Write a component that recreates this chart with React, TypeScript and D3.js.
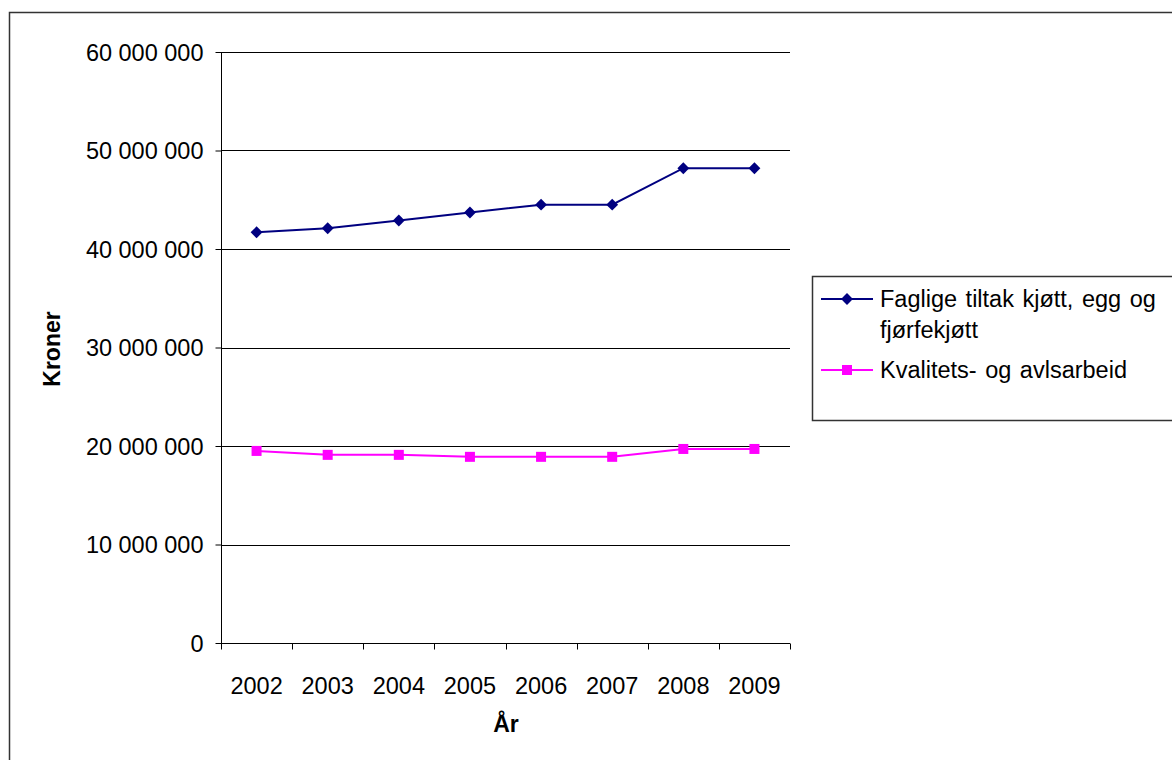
import React, { useEffect, useRef } from 'react';
import * as d3 from 'd3';

const years = ['2002', '2003', '2004', '2005', '2006', '2007', '2008', '2009'];
const faglige = [41700000, 42100000, 42900000, 43700000, 44500000, 44500000, 48200000, 48200000];
const kvalitet = [19500000, 19100000, 19100000, 18900000, 18900000, 18900000, 19700000, 19700000];
const yTicks = [0, 10000000, 20000000, 30000000, 40000000, 50000000, 60000000];
const seriesNames = ['Faglige tiltak kjøtt, egg og', 'fjørfekjøtt', 'Kvalitets- og avlsarbeid'];

const font = '"Liberation Sans", Arial, sans-serif';
const fs = 23.5;

const App: React.FC = () => {
  const svgRef = useRef<SVGSVGElement>(null);

  useEffect(() => {
    if (!svgRef.current) return;
    const svg = d3.select(svgRef.current);
    svg.selectAll('*').remove();

    // outer frame (cut off at right and bottom)
    svg.append('rect')
      .attr('x', 9.5).attr('y', 12.5)
      .attr('width', 1200).attr('height', 800)
      .attr('fill', 'white')
      .attr('stroke', '#333').attr('stroke-width', 1.5);

    const left = 221, right = 790, top = 52, bottom = 643;

    const x = d3.scaleBand().domain(years).range([left, right]);
    const y = d3.scaleLinear().domain([0, 60000000]).range([bottom, top]);

    const fmt = (v: number) => d3.format(',')(v).replace(/,/g, ' ');

    // gridlines
    svg.append('g')
      .selectAll('line')
      .data(yTicks.filter(d => d > 0))
      .enter().append('line')
      .attr('x1', left).attr('x2', right)
      .attr('y1', d => Math.round(y(d)) + 0.5).attr('y2', d => Math.round(y(d)) + 0.5)
      .attr('stroke', '#000').attr('stroke-width', 1);

    // y axis
    const yAxis = svg.append('g')
      .attr('transform', `translate(${left + 0.5},0)`)
      .call(d3.axisLeft(y).tickValues(yTicks).tickSize(6).tickPadding(12).tickFormat(d => fmt(d as number)));
    yAxis.select('.domain').attr('stroke', '#000').attr('d', `M-0,${top}V${bottom}`);
    yAxis.selectAll('text').attr('font-family', font).attr('font-size', fs).attr('fill', '#000').attr('dy', '0.34em');
    yAxis.selectAll('.tick line').attr('stroke', '#000');

    // x axis
    const xAxisG = svg.append('g').attr('transform', `translate(0,${bottom + 0.5})`);
    xAxisG.append('line').attr('x1', left).attr('x2', right).attr('stroke', '#000');
    xAxisG.selectAll('line.tk')
      .data(d3.range(years.length + 1))
      .enter().append('line')
      .attr('class', 'tk')
      .attr('x1', i => Math.round(left + i * x.step()) + 0.5)
      .attr('x2', i => Math.round(left + i * x.step()) + 0.5)
      .attr('y1', 0).attr('y2', 6)
      .attr('stroke', '#000');
    xAxisG.selectAll('text')
      .data(years)
      .enter().append('text')
      .attr('x', d => (x(d) as number) + x.bandwidth() / 2)
      .attr('y', 50)
      .attr('text-anchor', 'middle')
      .attr('font-family', font).attr('font-size', fs)
      .text(d => d);

    // axis titles
    svg.append('text')
      .attr('transform', `translate(60,349) rotate(-90)`)
      .attr('text-anchor', 'middle')
      .attr('font-family', font).attr('font-size', 23).attr('font-weight', 'bold')
      .text('Kroner');
    svg.append('text')
      .attr('x', 506).attr('y', 732)
      .attr('text-anchor', 'middle')
      .attr('font-family', font).attr('font-size', 23).attr('font-weight', 'bold')
      .text('År');

    const cx = (i: number) => (x(years[i]) as number) + x.bandwidth() / 2;
    const line = d3.line<number>().x((_, i) => cx(i)).y(d => y(d));
    const diamond = d3.symbol(d3.symbolDiamond2, 90)();

    // blue series
    svg.append('path').datum(faglige)
      .attr('d', line).attr('fill', 'none')
      .attr('stroke', '#000080').attr('stroke-width', 2);
    svg.append('g').selectAll('path')
      .data(faglige).enter().append('path')
      .attr('d', diamond)
      .attr('transform', (d, i) => `translate(${cx(i)},${y(d)})`)
      .attr('fill', '#000080');

    // pink series
    svg.append('path').datum(kvalitet)
      .attr('d', line).attr('fill', 'none')
      .attr('stroke', '#ff00ff').attr('stroke-width', 2);
    svg.append('g').selectAll('rect')
      .data(kvalitet).enter().append('rect')
      .attr('x', (d, i) => cx(i) - 5).attr('y', d => y(d) - 5)
      .attr('width', 10).attr('height', 10)
      .attr('fill', '#ff00ff');

    // legend
    const lg = svg.append('g');
    lg.append('rect')
      .attr('x', 812.5).attr('y', 276.5).attr('width', 400).attr('height', 144)
      .attr('fill', 'white').attr('stroke', '#333').attr('stroke-width', 1.5);
    lg.append('line').attr('x1', 821).attr('x2', 873).attr('y1', 299).attr('y2', 299)
      .attr('stroke', '#000080').attr('stroke-width', 2);
    lg.append('path')
      .attr('d', diamond)
      .attr('transform', 'translate(847,299)')
      .attr('fill', '#000080');
    lg.append('line').attr('x1', 821).attr('x2', 873).attr('y1', 370).attr('y2', 370)
      .attr('stroke', '#ff00ff').attr('stroke-width', 2);
    lg.append('rect').attr('x', 842).attr('y', 365).attr('width', 10).attr('height', 10)
      .attr('fill', '#ff00ff');
    lg.selectAll('text')
      .data(seriesNames)
      .enter().append('text')
      .attr('x', 880)
      .attr('y', (_, i) => [307, 338, 378][i])
      .attr('font-family', font).attr('font-size', fs)
      .attr('word-spacing', '2px')
      .text(d => d);
  }, []);

  return (
    <div style={{ position: 'absolute', left: 0, top: 0, width: 1172, height: 760, overflow: 'hidden', background: 'white' }}>
      <svg ref={svgRef} width={1172} height={760} style={{ display: 'block' }}></svg>
    </div>
  );
};

export default App;
